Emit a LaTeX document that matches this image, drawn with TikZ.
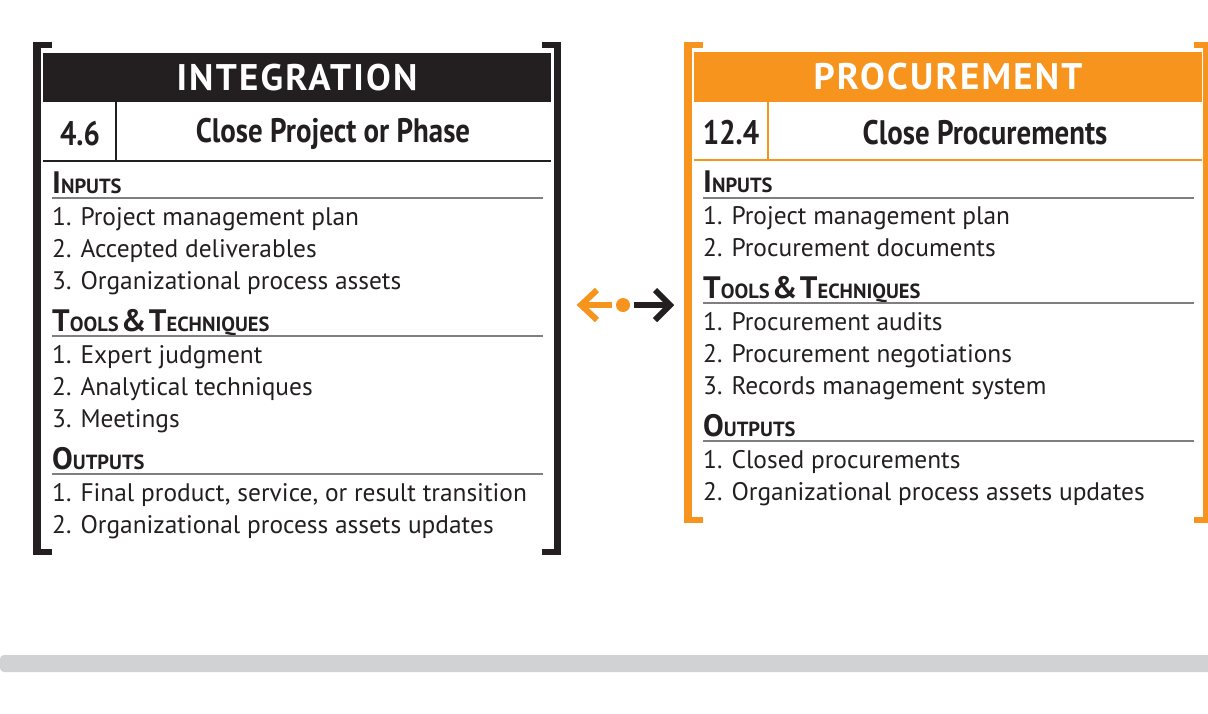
\documentclass[tikz,border=0pt]{standalone}
\usepackage{fontspec}
\setmainfont{PT Sans}
\newfontfamily\condfont{PT Sans}[FakeStretch=0.85]
\newfontfamily\headfont{PT Sans}[LetterSpace=6]
\definecolor{ink}{HTML}{231F20}
\definecolor{pmorange}{HTML}{F7941D}
\definecolor{bandgray}{HTML}{D1D2D4}
\definecolor{rulegray}{HTML}{7F7F7F}
\newcommand{\fsc}[2]{{\fontsize{31}{33}\selectfont #1}{\fontsize{20.5}{22}\selectfont #2}}
\tikzset{
  headtitle/.style={text=white, font=\headfont\bfseries\fontsize{37}{39}\selectfont, inner sep=0},
  numtxt/.style={text=ink, font=\condfont\bfseries\fontsize{34}{36}\selectfont, inner sep=0},
  proctxt/.style={text=ink, font=\condfont\bfseries\fontsize{34}{36}\selectfont, inner sep=0},
  sechead/.style={text=ink, font=\bfseries, anchor=base west, inner sep=0},
  itemtxt/.style={text=ink, font=\fontsize{25.4}{27}\selectfont, anchor=base west, inner sep=0},
  secrule/.style={draw=rulegray, line width=1.3pt},
}
\begin{document}
\begin{tikzpicture}[x=1pt,y=-1pt]
\useasboundingbox (0,0) rectangle (1208,713);
% gray band
\fill[bandgray, rounded corners=4pt] (0,655) rectangle (1230,672);

% ===== LEFT (INTEGRATION) =====
\fill[ink] (33,42) rectangle (52,48);
\fill[ink] (33,42) rectangle (41,555);
\fill[ink] (33,549) rectangle (52,555);
\fill[ink] (542,42) rectangle (561,48);
\fill[ink] (554,42) rectangle (561,555);
\fill[ink] (542,549) rectangle (561,555);
\fill[ink] (43,53) rectangle (551,102);
\node[headtitle] (lhead) at (297,78) {INTEGRATION};
\draw[ink, line width=2pt] (116,102) -- (116,160);
\draw[ink, line width=2.5pt] (43,161) -- (551,161);
\node[numtxt] (lnum) at (80,134) {4.6};
\node[proctxt] (lproc) at (333,134) {Close Project or Phase};

\node[sechead] (lin) at (52,193) {\fsc{I}{NPUTS}};
\draw[secrule] (52,198) -- (543,198);
\node[itemtxt] (li1) at (52,225) {1. Project management plan};
\node[itemtxt] (li2) at (52,257) {2. Accepted deliverables};
\node[itemtxt] (li3) at (52,289) {3. Organizational process assets};
\node[sechead] (ltt) at (52,331) {\fsc{T}{OOLS} \fsc{\&}{} \fsc{T}{ECHNIQUES}};
\draw[secrule] (52,336) -- (543,336);
\node[itemtxt] (lt1) at (52,363) {1. Expert judgment};
\node[itemtxt] (lt2) at (52,395) {2. Analytical techniques};
\node[itemtxt] (lt3) at (52,427) {3. Meetings};
\node[sechead] (lout) at (52,469) {\fsc{O}{UTPUTS}};
\draw[secrule] (52,474) -- (543,474);
\node[itemtxt] (lo1) at (52,501) {1. Final product, service, or result transition};
\node[itemtxt] (lo2) at (52,533) {2. Organizational process assets updates};

% ===== RIGHT (PROCUREMENT) =====
\fill[pmorange] (684,42) rectangle (703,48);
\fill[pmorange] (684,42) rectangle (692,523);
\fill[pmorange] (684,517) rectangle (703,523);
\fill[pmorange] (1194,42) rectangle (1215,48);
\fill[pmorange] (1203,42) rectangle (1215,523);
\fill[pmorange] (1194,517) rectangle (1215,523);
\fill[pmorange] (694,52) rectangle (1202,102);
\node[headtitle] (rhead) at (948,77) {PROCUREMENT};
\draw[pmorange, line width=2pt] (768,102) -- (768,160);
\draw[pmorange, line width=2.5pt] (694,160) -- (1202,160);
\node[numtxt] (rnum) at (731,133) {12.4};
\node[proctxt] (rproc) at (985,133) {Close Procurements};

\node[sechead] (rin) at (703,192) {\fsc{I}{NPUTS}};
\draw[secrule] (703,198) -- (1194,198);
\node[itemtxt] (ri1) at (703,224) {1. Project management plan};
\node[itemtxt] (ri2) at (703,256) {2. Procurement documents};
\node[sechead] (rtt) at (703,298) {\fsc{T}{OOLS} \fsc{\&}{} \fsc{T}{ECHNIQUES}};
\draw[secrule] (703,303) -- (1194,303);
\node[itemtxt] (rt1) at (703,330) {1. Procurement audits};
\node[itemtxt] (rt2) at (703,362) {2. Procurement negotiations};
\node[itemtxt] (rt3) at (703,394) {3. Records management system};
\node[sechead] (rout) at (703,436) {\fsc{O}{UTPUTS}};
\draw[secrule] (703,441) -- (1194,441);
\node[itemtxt] (ro1) at (703,468) {1. Closed procurements};
\node[itemtxt] (ro2) at (703,500) {2. Organizational process assets updates};

% ===== double arrow symbol =====
\draw[pmorange, line width=6pt] (582,305) -- (612,305);
\draw[pmorange, line width=6pt, line join=miter] (597,290) -- (581,305) -- (597,320);
\fill[pmorange] (623,305) circle (7);
\draw[ink, line width=6pt] (634,305) -- (668,305);
\draw[ink, line width=6pt, line join=miter] (655,290) -- (670,305) -- (655,320);
\end{tikzpicture}
\end{document}
